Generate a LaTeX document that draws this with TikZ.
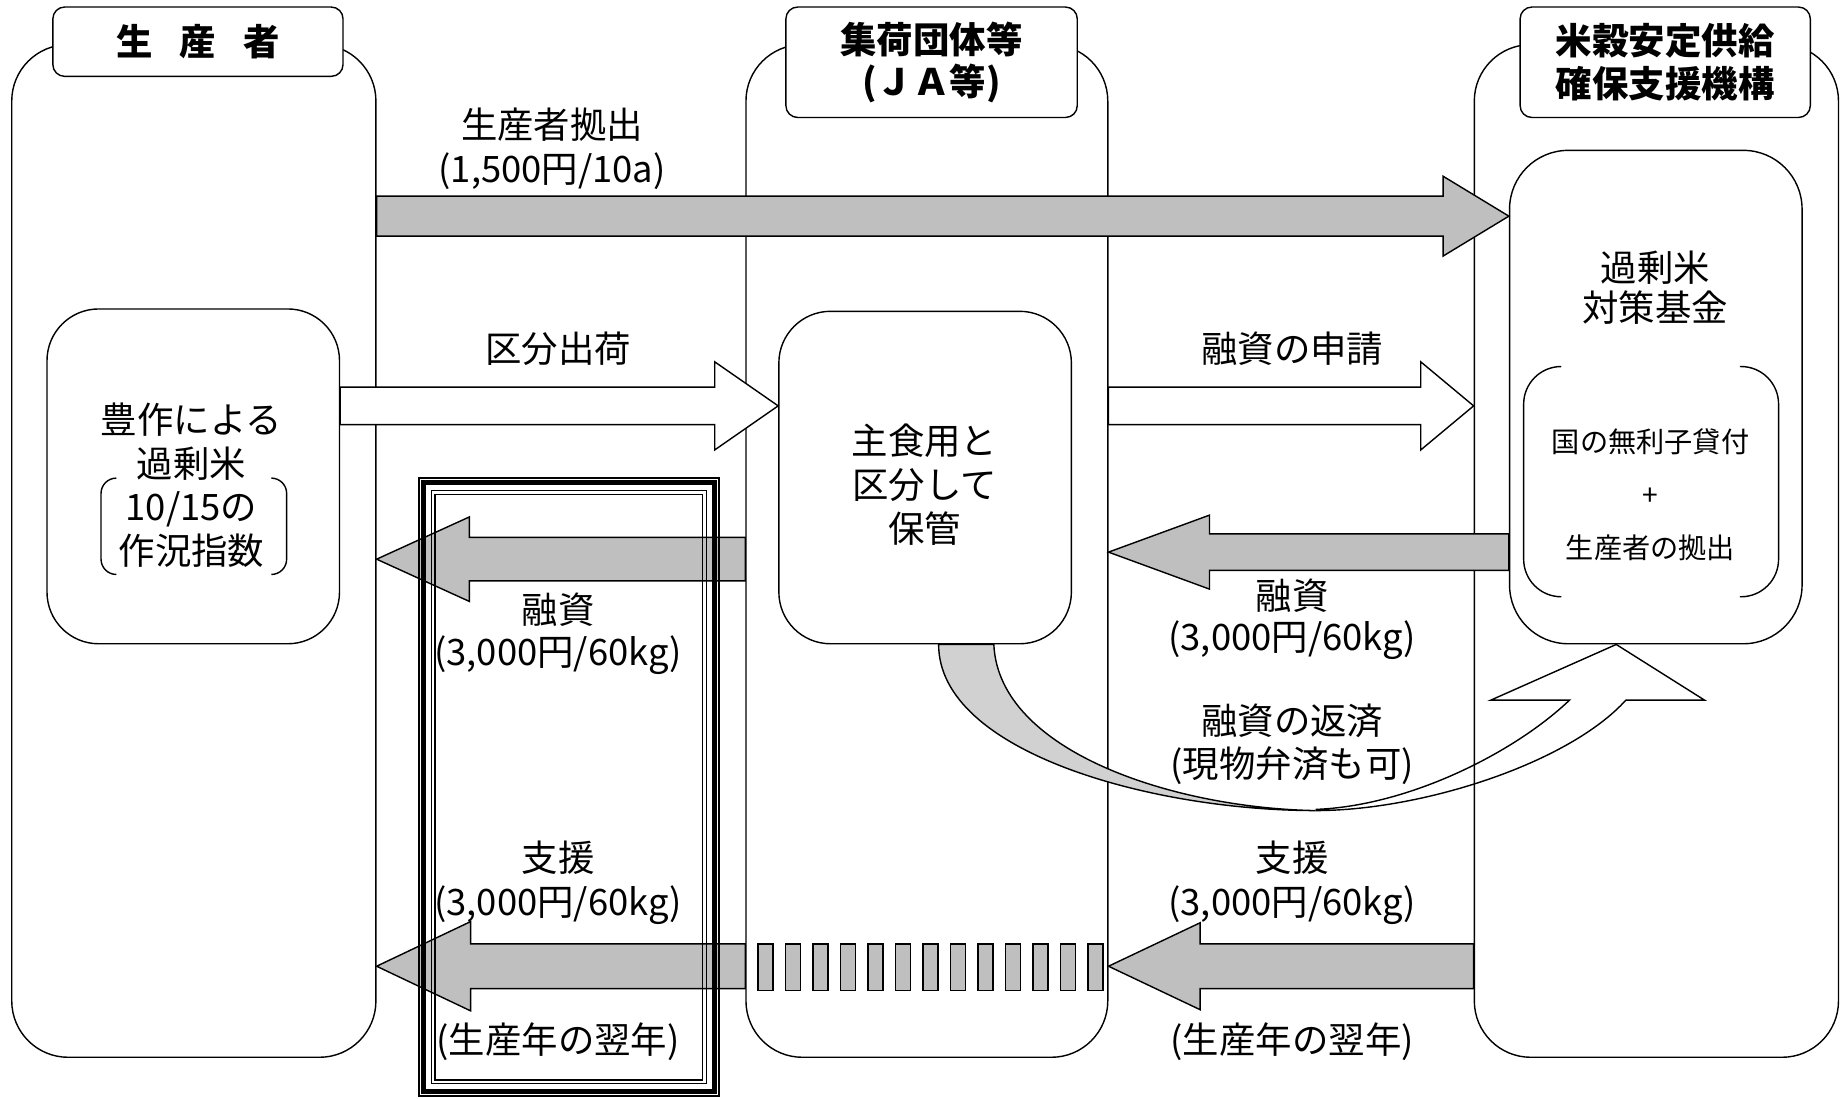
\documentclass[tikz,border=0pt]{standalone}
\usepackage{fontspec}
\setmainfont{Noto Sans CJK JP}
\usetikzlibrary{calc}

% block arrow: [style]{tail}{tip}{row}{half shaft}{half head}{head length}
\newcommand{\bigarrow}[7][]{%
  \draw[#1] ($(#2|-#4)+(0,#5)$) -- ($(#3|-#4)+({-(#7)},#5)$) -- ($(#3|-#4)+({-(#7)},#6)$) -- (#3|-#4)
         -- ($(#3|-#4)+({-(#7)},{-(#6)})$) -- ($(#3|-#4)+({-(#7)},{-(#5)})$) -- ($(#2|-#4)+(0,{-(#5)})$) -- cycle;}

\begin{document}
\begin{tikzpicture}[x=0.5pt, y=-0.5pt,
    panel/.style = {draw, fill=white, line width=0.6pt, rounded corners=24pt, minimum width=155pt, minimum height=431pt, inner sep=0},
    head/.style  = {draw, fill=white, line width=0.6pt, rounded corners=5pt, minimum width=123.5pt, inner sep=0, align=center, font=\bfseries\fontsize{15.5}{18}\selectfont},
    box/.style   = {draw, fill=white, line width=0.6pt, rounded corners=22pt, minimum width=124.5pt, inner sep=0},
    lbl/.style   = {align=center, inner sep=0, font=\fontsize{15.5}{18.5}\selectfont},
    grayarrow/.style  = {draw, fill=black!25, line width=0.6pt},
    whitearrow/.style = {draw, fill=white, line width=0.6pt}]
    \useasboundingbox (0,0) rectangle (1568,935.5);

    \node[panel]                        (prod) at (165,469)  {};
    \node[panel, minimum width=154pt]   (ja)   at (789,469)  {};
    \node[panel]                        (org)  at (1410,469) {};

    \node[head, minimum height=29.5pt]                    (prodhead) at (168.5,35.5) {生\hspace{0.75em}産\hspace{0.75em}者};
    \node[head, minimum height=47pt, minimum width=124pt] (jahead)   at (793,53)     {集荷団体等\\(ＪＡ等)};
    \node[head, minimum height=47pt]                      (orghead)  at (1417.5,53)  {米穀安定供給\\確保支援機構};

    \node[box, minimum height=142.5pt]                     (surplus) at (164.5,405.5) {};
    \node[box, minimum height=141.5pt]                     (storage) at (787.5,406.5) {};
    \node[box, minimum height=210pt, rounded corners=25pt] (fund)    at (1409.5,338)  {};

    \draw[line width=0.6pt, rounded corners=6.5pt] (99,407) -- (86,407) -- (86,489) -- (99,489);
    \draw[line width=0.6pt, rounded corners=6.5pt] (232,407) -- (244,407) -- (244,489) -- (232,489);
    \draw[line width=0.6pt, rounded corners=16pt] (1329,312) -- (1297,312) -- (1297,508) -- (1329,508);
    \draw[line width=0.6pt, rounded corners=16pt] (1481,312) -- (1514,312) -- (1514,508) -- (1481,508);

    \coordinate (row1) at (0,184);
    \coordinate (row2) at (0,345.5);
    \coordinate (row3) at (0,470);
    \coordinate (row4) at (0,476);
    \coordinate (row5) at (0,822.5);

    \bigarrow[grayarrow]{prod.east}{fund.west}{row1}{17}{34}{56}
    \bigarrow[whitearrow]{surplus.east}{storage.west}{row2}{16}{37.5}{54}
    \bigarrow[whitearrow]{ja.east}{org.west}{row2}{16}{37.5}{45}
    \bigarrow[grayarrow]{fund.west}{ja.east}{row3}{15.5}{31.5}{-86}
    \bigarrow[grayarrow]{ja.west}{prod.east}{row4}{18.5}{36}{-79}
    \bigarrow[grayarrow]{org.west}{ja.east}{row5}{19}{37}{-78}
    \bigarrow[grayarrow]{ja.west}{prod.east}{row5}{19}{38}{-80}

    \foreach \i in {0,...,12}
      \draw[grayarrow] ({645.3+23.4*\i},803.5) rectangle ++(12.8,39.5);

    % repayment: grey back, white front
    \coordinate (backL) at ($(storage.south)+(11.5,0)$);
    \coordinate (backR) at ($(storage.south)+(58.5,0)$);
    \coordinate (tipR)  at ($(fund.south)+(-33.7,0)$);
    \draw[line width=0.6pt, fill=black!18] (backL) .. controls (799,640) and (980,690) .. (1120,690)
        .. controls (1000,688) and (850,640) .. (backR) -- cycle;
    \draw[line width=0.6pt] (1120,690) .. controls (1210,690) and (1335,650) .. (1384,596) -- (1451,596) -- (tipR)
        -- (1269,596) -- (1336,596) .. controls (1290,640) and (1200,686) .. (1120,689);

    \draw[line width=0.7pt] (356.6,407) rectangle (612,933);
    \draw[line width=2pt]   (360.3,410.7) rectangle (608.3,929.3);
    \draw[line width=0.6pt] (367.2,417.6) rectangle (601.4,922.4);
    \draw[line width=0.6pt] (370.4,420.8) rectangle (598.2,919.2);

    \node[lbl, font=\fontsize{15.5}{18.7}\selectfont] (surplustext) at (163,413)    {豊作による\\過剰米\\10/15の\\作況指数};
    \node[lbl, font=\fontsize{15.5}{18.7}\selectfont] (storagetext) at (787,412.5)  {主食用と\\区分して\\保管};
    \node[lbl, font=\fontsize{15.5}{17}\selectfont]   (fundtext)    at (1409,245)   {過剰米\\対策基金};
    \node[lbl, font=\fontsize{12}{22.5}\selectfont]   (fundsrc)     at (1405,421)   {国の無利子貸付\\+\\生産者の拠出};

    \node[lbl] (kyoshutsu) at (470,126.5)  {生産者拠出\\(1,500円/10a)};
    \node[lbl] (kubun)     at (475,297)    {区分出荷};
    \node[lbl] (shinsei)   at (1100,297)   {融資の申請};
    \node[lbl, font=\fontsize{15.5}{17.5}\selectfont] (yushiR) at (1100,527.5) {融資\\(3,000円/60kg)};
    \node[lbl, font=\fontsize{15.5}{17.5}\selectfont] (yushiL) at (475,539.5)  {融資\\(3,000円/60kg)};
    \node[lbl] (hensai)    at (1100,633.5) {融資の返済\\(現物弁済も可)};
    \node[lbl] (shienL)    at (475,751.5)  {支援\\(3,000円/60kg)};
    \node[lbl] (shienR)    at (1100,751.5) {支援\\(3,000円/60kg)};
    \node[lbl] (yokuL)     at (475,887)    {(生産年の翌年)};
    \node[lbl] (yokuR)     at (1100,887)   {(生産年の翌年)};
\end{tikzpicture}
\end{document}
